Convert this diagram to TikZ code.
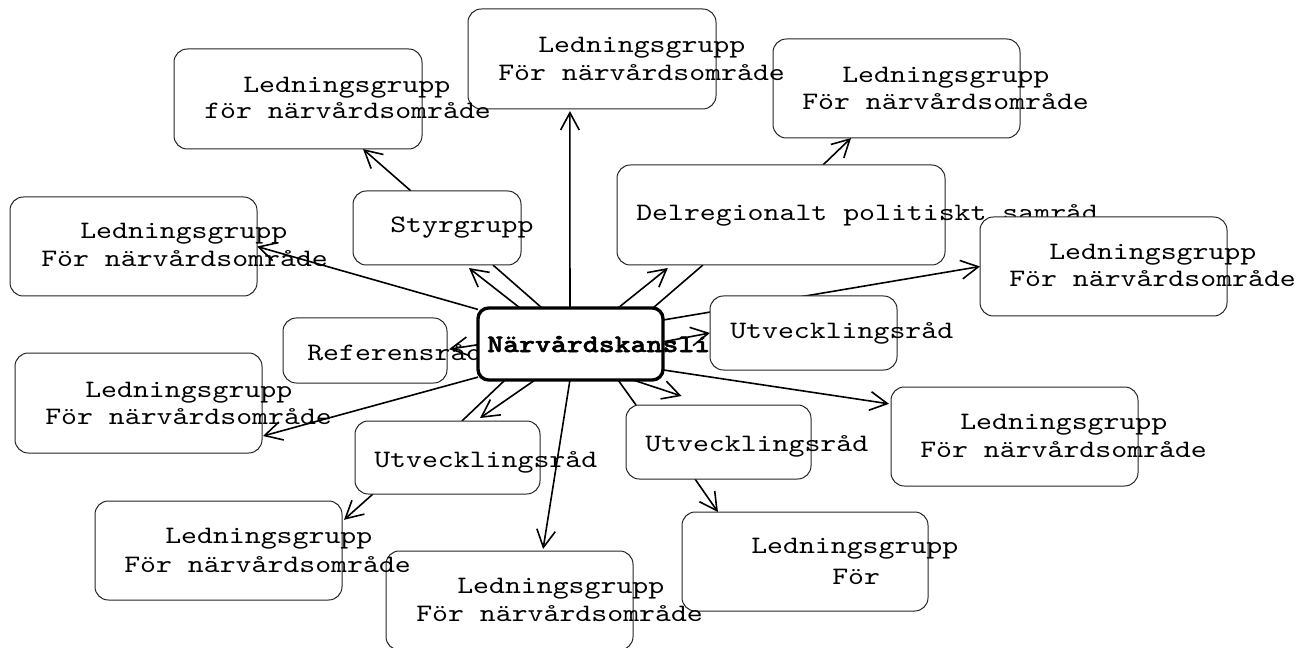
\documentclass[tikz,border=0pt]{standalone}
\usepackage{fontspec}
\newfontfamily\monofnt[Extension=.otf, FakeStretch=1.21, BoldFont=lmmonolt10-bold, BoldFeatures={FakeBold=2}]{lmmono10-regular}
\usetikzlibrary{arrows.meta,calc}
\pgfdeclarelayer{background}
\pgfsetlayers{background,main}
\begin{document}
\begin{tikzpicture}[x=0.75pt,y=-0.75pt,
  ln/.style={line width=1.2pt, draw=black},
  arr/.style={ln, -{Straight Barb[length=13pt,width=14pt]}},
  bx/.style 2 args={draw=black!85, line width=0.75pt, fill=white, rounded corners=10pt,
     minimum width=#1*0.75pt, minimum height=#2*0.75pt, inner sep=0pt, outer sep=0pt},
  ctrbox/.style={draw=black, line width=2.5pt, fill=white, rounded corners=8pt,
     minimum width=185*0.75pt, minimum height=72*0.75pt, inner sep=0pt, outer sep=0pt},
  txt/.style={font=\monofnt\fontsize{18.8}{24}\selectfont, inner sep=0pt, anchor=base west},
  btxt/.style={font=\monofnt\bfseries\fontsize{18.8}{24}\selectfont, inner sep=0pt, anchor=base west}
]
\useasboundingbox (0,0) rectangle (1312,648);

% ---------- boxes ----------
\path
  (298,99)      node[bx={248}{100}] (N) {}
  (133.5,246.5) node[bx={247}{99}]  (O) {}
  (437,228)     node[bx={168}{74}]  (S) {}
  (592,59)      node[bx={248}{100}] (A) {}
  (896.5,88.5)  node[bx={247}{99}]  (B) {}
  (781,215)     node[bx={328}{100}] (C) {};
\node[txt] (tC) at (636,221) {Delregionalt politiskt samråd};
\path
  (1103.5,266.5) node[bx={247}{99}] (D) {}
  (803.5,333)   node[bx={187}{74}]  (E) {}
  (1014.5,436.5) node[bx={247}{99}] (F) {}
  (718.5,442)   node[bx={185}{74}]  (G) {}
  (805,561.5)   node[bx={246}{99}]  (H) {}
  (138.5,403)   node[bx={247}{100}] (J) {}
  (447.5,457.5) node[bx={185}{73}]  (K) {}
  (218.5,550.5) node[bx={247}{99}]  (L) {}
  (509.5,600.5) node[bx={247}{99}]  (M) {}
  (365,350.5)   node[bx={164}{65}]  (I) {};
\node[txt] (tI) at (307,360) {Referensråd};
\node[ctrbox] (ctr) at (570.5,344) {};

% ---------- connectors (drawn behind the boxes) ----------
\begin{pgfonlayer}{background}
\draw[arr] ($(S.north west)!0.345!(S.north east)$) -- ($(N.south west)!0.762!(N.south east)$);
\draw[arr] ($(ctr.north west)!0.227!(ctr.north east)$) -- ($(S.south west)!0.69!(S.south east)+(0,3)$);
\draw[ln]  ($(S.south west)!0.833!(S.south east)$) -- ($(ctr.north west)!0.346!(ctr.north east)$);
\draw[arr] ($(ctr.north west)!0.497!(ctr.north east)$) -- ($(A.south west)!0.411!(A.south east)+(0,2)$);
\draw[arr] ($(ctr.north west)!0.757!(ctr.north east)$) -- ($(C.south west)!0.155!(C.south east)+(0,3)$);
\draw[ln]  ($(C.south west)!0.262!(C.south east)$) -- ($(ctr.north west)!0.946!(ctr.north east)$);
\draw[arr] ($(C.north west)!0.628!(C.north east)$) -- ($(B.south west)!0.316!(B.south east)$);
\draw[arr] ($(ctr.north east)!0.167!(ctr.south east)$) -- (D.west);
\draw[arr] ($(ctr.north east)!0.47!(ctr.south east)$) -- (E.west);
\draw[arr] ($(ctr.north east)!0.86!(ctr.south east)$) -- ($(F.north west)!0.17!(F.south west)+(-2,0)$);
\draw[arr] ($(ctr.south west)!0.838!(ctr.south east)$) -- ($(G.north west)!0.30!(G.north east)+(0,-9)$);
\draw[ln]  ($(G.north west)!0.054!(G.north east)$) -- ($(ctr.south west)!0.757!(ctr.south east)$);
\draw[arr] ($(G.south west)!0.373!(G.south east)$) -- ($(H.north west)!0.146!(H.north east)$);
\draw[arr] ($(ctr.south west)!0.497!(ctr.south east)$) -- ($(M.north west)!0.636!(M.north east)+(0,-2)$);
\draw[arr] ($(ctr.south west)!0.308!(ctr.south east)$) -- ($(K.north west)!0.676!(K.north east)+(0,-3)$);
\draw[ln]  ($(K.north west)!0.578!(K.north east)$) -- ($(ctr.south west)!0.146!(ctr.south east)$);
\draw[arr] ($(K.south west)!0.097!(K.south east)$) -- ($(L.north east)!0.19!(L.south east)+(2,0)$);
\draw[arr] ($(ctr.north west)!0.96!(ctr.south west)$) -- ($(J.north east)!0.83!(J.south east)+(1,0)$);
\draw[arr] ($(ctr.north west)!0.51!(ctr.south west)$) -- ($(I.north east)!0.48!(I.south east)+(2,0)$);
\draw[arr] ($(ctr.north west)!0.02!(ctr.south west)$) -- (O.east);
\end{pgfonlayer}

% ---------- texts ----------
\node[txt] (tN1) at (243,93)  {Ledningsgrupp};
\node[txt] (tN2) at (204,119) {för närvårdsområde};
\node[txt] (tO1) at (80,239)  {Ledningsgrupp};
\node[txt] (tO2) at (41,267)  {För närvårdsområde};
\node[txt] (tS)  at (390,233) {Styrgrupp};
\node[txt] (tA1) at (538,53)  {Ledningsgrupp};
\node[txt] (tA2) at (498,81)  {För närvårdsområde};
\node[txt] (tB1) at (842,83)  {Ledningsgrupp};
\node[txt] (tB2) at (802,110) {För närvårdsområde};
\node[txt] (tD1) at (1049,260) {Ledningsgrupp};
\node[txt] (tD2) at (1009,287) {För närvårdsområde};
\node[txt] (tE)  at (730,339) {Utvecklingsråd};
\node[txt] (tF1) at (960,429) {Ledningsgrupp};
\node[txt] (tF2) at (920,457) {För närvårdsområde};
\node[txt] (tG)  at (645,451) {Utvecklingsråd};
\node[txt] (tH1) at (751,553) {Ledningsgrupp};
\node[txt] (tH2) at (832,584) {För};
\node[txt] (tJ1) at (85,397)  {Ledningsgrupp};
\node[txt] (tJ2) at (45,424)  {För närvårdsområde};
\node[txt] (tK)  at (374,467) {Utvecklingsråd};
\node[txt] (tL1) at (165,543) {Ledningsgrupp};
\node[txt] (tL2) at (124,572) {För närvårdsområde};
\node[txt] (tM1) at (457,593) {Ledningsgrupp};
\node[txt] (tM2) at (416,621) {För närvårdsområde};
\node[btxt] (tctr) at (487,352) {Närvårdskansli};
\end{tikzpicture}
\end{document}
